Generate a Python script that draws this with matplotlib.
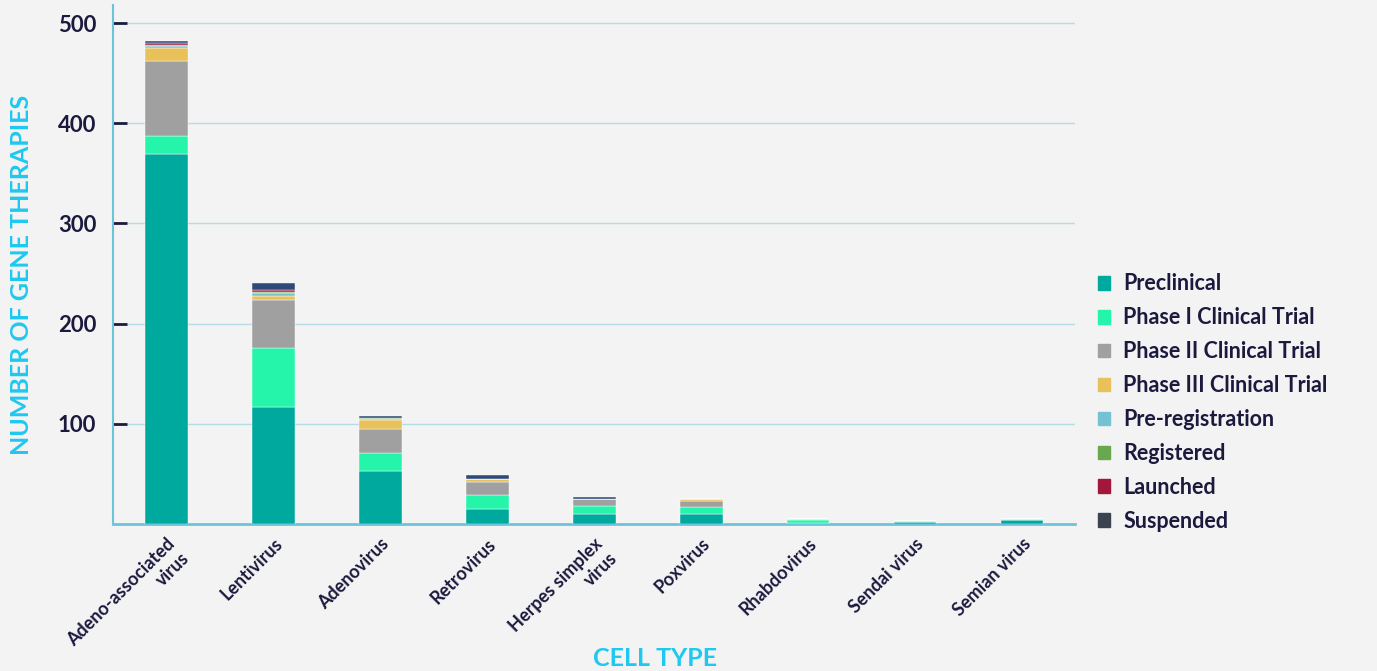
import matplotlib.pyplot as plt
import numpy as np

plt.rcParams["font.family"] = ["Lato", "DejaVu Sans"]

vectors = ["Adeno-associated\nvirus", "Lentivirus", "Adenovirus", "Retrovirus",
           "Herpes simplex\nvirus", "Poxvirus", "Rhabdovirus", "Sendai virus", "Semian virus"]

stages = ["Preclinical", "Phase I Clinical Trial", "Phase II Clinical Trial",
          "Phase III Clinical Trial", "Pre-registration", "Registered", "Launched", "Suspended"]

preclinical = [369, 117, 53, 15, 10, 10, 1, 2, 4]
phase1 = [18, 59, 18, 14, 8, 7, 3, 0, 0]
phase2 = [75, 48, 24, 13, 7, 6, 1, 1, 1]
phase3 = [13, 4, 9, 3, 0, 2, 0, 0, 0]
prereg = [2, 3, 1, 0, 0, 0, 0, 0, 0]
registered = [1, 1, 1, 0, 0, 0, 0, 0, 0]
launched = [2, 2, 0, 0, 0, 0, 0, 0, 0]
suspended = [2, 7, 2, 4, 2, 0, 0, 0, 0]

series = [preclinical, phase1, phase2, phase3, prereg, registered, launched, suspended]
colors = ["#00A99D", "#24F5AA", "#A0A0A0", "#E8C15A", "#74C2D4", "#6AA84F", "#A3173A", "#2E4A7A"]
legend_colors = colors[:7] + ["#3B4250"]

navy = "#1B1A3E"
cyan = "#1EC8F0"
bg = "#F3F3F3"

fig = plt.figure(figsize=(13.77, 6.71), dpi=100, facecolor=bg)
ax = fig.add_axes([0.082, 0.219, 0.699, 0.7735])
ax.set_facecolor(bg)

x = np.arange(len(vectors))
bottom = np.zeros(len(vectors))
for vals, col, lab in zip(series, colors, stages):
    ax.bar(x, vals, 0.4, bottom=bottom, color=col, label=lab,
           edgecolor="white", linewidth=0.3, zorder=3)
    bottom += np.array(vals)

ax.set_xlim(-0.5, len(vectors) - 0.5)
ax.set_ylim(0, 518)
ax.set_yticks([100, 200, 300, 400, 500])
ax.yaxis.grid(True, color="#B5DCE6", linewidth=1, zorder=0)
ax.tick_params(axis="y", direction="in", length=10, width=2, color=navy,
               labelsize=16, labelcolor=navy, pad=12)
ax.tick_params(axis="x", length=0, labelsize=13, labelcolor=navy, pad=8)
for lbl in ax.get_yticklabels():
    lbl.set_fontweight("bold")

ax.set_xticks(x)
ax.set_xticklabels(vectors, rotation=45, ha="right", rotation_mode="anchor",
                   fontweight="bold", multialignment="right")

for s in ["top", "right"]:
    ax.spines[s].set_visible(False)
ax.spines["left"].set_color("#6CC4DA")
ax.spines["bottom"].set_color("#6CC4DA")
ax.spines["left"].set_linewidth(1.5)
ax.spines["bottom"].set_linewidth(2)

ax.set_ylabel("NUMBER OF GENE THERAPIES", color=cyan, fontsize=18,
              fontweight="bold")
ax.yaxis.set_label_coords(-0.083, 0.48)
fig.text(0.476, 0.008, "CELL TYPE", color=cyan, fontsize=18,
         fontweight="bold", ha="center")

handles = [plt.Rectangle((0, 0), 1, 1, color=c) for c in legend_colors]
leg = fig.legend(handles, stages, loc="center left", bbox_to_anchor=(0.783, 0.4),
                 frameon=False, fontsize=15.5, handlelength=0.6, handleheight=0.6,
                 handletextpad=0.6, labelspacing=0.6, labelcolor=navy)
for t in leg.get_texts():
    t.set_fontweight("bold")

fig.savefig("out.png", dpi=100, facecolor=bg)
